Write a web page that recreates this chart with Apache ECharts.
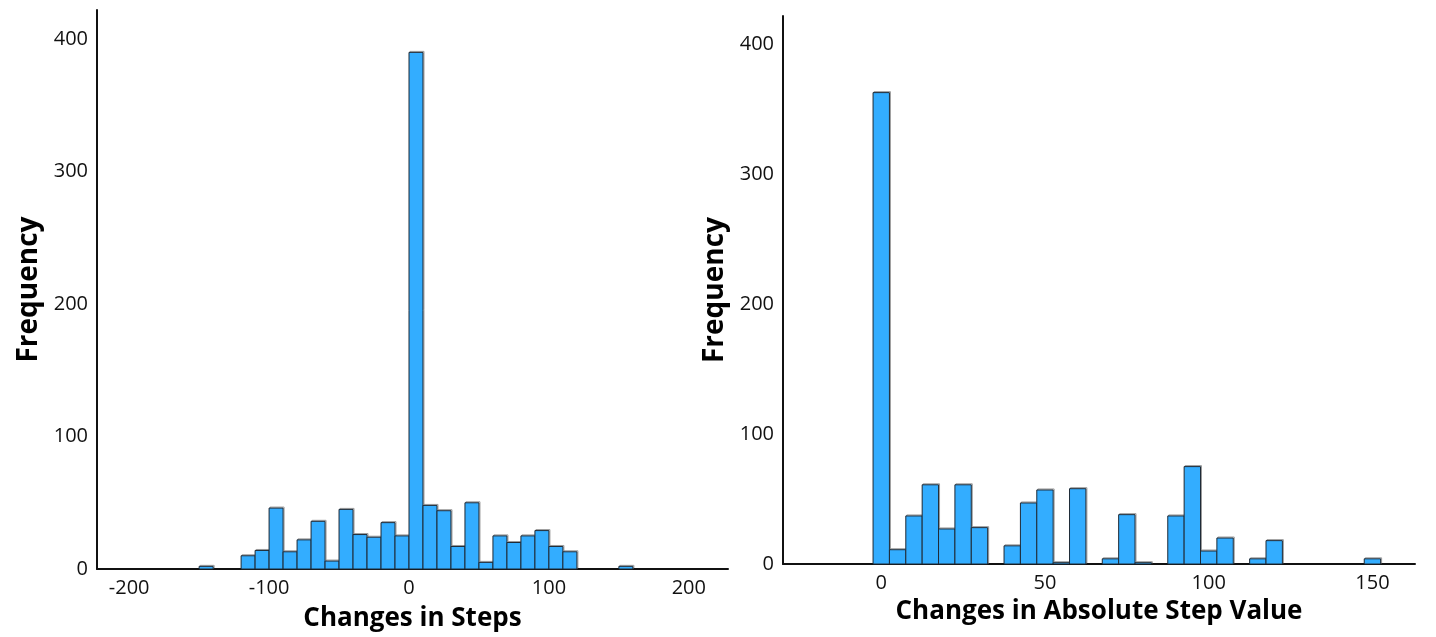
<!DOCTYPE html>
<html>
<head>
<meta charset="utf-8">
<script src="https://cdn.jsdelivr.net/npm/echarts@6/dist/echarts.min.js"></script>
<style>
  html, body { margin: 0; padding: 0; background: #fff; }
  #chart { width: 1436px; height: 637px; }
</style>
</head>
<body>
<div id="chart"></div>
<script>
// ---- Left histogram: Changes in Steps (bin width 10, lower edges) ----
const leftBinWidth = 10;
const leftBinStarts = [-150, -120, -110, -100, -90, -80, -70, -60, -50, -40, -30, -20, -10,
                       0, 10, 20, 30, 40, 50, 60, 70, 80, 90, 100, 110, 150];
const leftFreq      = [2, 10, 14, 46, 13, 22, 36, 6, 45, 26, 24, 35, 25,
                       390, 48, 44, 17, 50, 5, 25, 20, 25, 29, 17, 13, 2];
const leftXTicks = [-200, -100, 0, 100, 200];

// ---- Right histogram: Changes in Absolute Step Value (bin width 5, centres) ----
const rightBinWidth = 5;
const rightBinCenters = [0, 5, 10, 15, 20, 25, 30, 40, 45, 50, 55, 60, 70, 75, 80,
                         90, 95, 100, 105, 115, 120, 150];
const rightFreq       = [363, 11, 37, 61, 27, 61, 28, 14, 47, 57, 1, 58, 4, 38, 1,
                         37, 75, 10, 20, 4, 18, 4];
const rightXTicks = [0, 50, 100, 150];

const yTicks = [0, 100, 200, 300, 400];

const leftData = leftBinStarts.map((s, i) => [s, s + leftBinWidth, leftFreq[i]]);
const rightData = rightBinCenters.map((c, i) => [c - rightBinWidth / 2, c + rightBinWidth / 2, rightFreq[i]]);

const FONT = 'Open Sans';
const BAR_FILL = '#33adff';
const BAR_STROKE = '#1e2a36';

function renderBar(params, api) {
  const x0 = api.value(0), x1 = api.value(1), v = api.value(2);
  const p0 = api.coord([x0, 0]);
  const p1 = api.coord([x1, v]);
  return {
    type: 'group',
    children: [
      {
        type: 'rect',
        shape: { x: p0[0] + 1, y: p1[1] - 1, width: p1[0] - p0[0], height: p0[1] - p1[1] },
        style: { fill: 'none', stroke: '#9a9a9a', lineWidth: 1 }
      },
      {
        type: 'rect',
        shape: { x: p0[0], y: p1[1], width: p1[0] - p0[0], height: p0[1] - p1[1] },
        style: { fill: BAR_FILL, stroke: BAR_STROKE, lineWidth: 1 }
      }
    ]
  };
}

const axisLineStyle = { show: true, onZero: false, lineStyle: { color: '#111', width: 2 } };
const tickLabel = { color: '#111', fontFamily: FONT, fontSize: 20 };
const xNameStyle = { color: '#000', fontFamily: FONT, fontSize: 26, fontWeight: 'bold' };
const yNameStyle = { color: '#000', fontFamily: FONT, fontSize: 28, fontWeight: 'bold' };

function xAxisDef(gridIndex, min, max, ticks, name, gap) {
  return {
    type: 'value', gridIndex, min, max,
    name, nameLocation: 'middle', nameGap: gap, nameTextStyle: xNameStyle,
    axisLine: axisLineStyle,
    axisTick: { show: false },
    splitLine: { show: false },
    axisLabel: Object.assign({ margin: 9, customValues: ticks }, tickLabel)
  };
}
function yAxisDef(gridIndex, gap) {
  return {
    type: 'value', gridIndex, min: 0, max: 422,
    name: 'Frequency', nameLocation: 'middle', nameGap: gap, nameTextStyle: yNameStyle,
    axisLine: axisLineStyle,
    axisTick: { show: false },
    splitLine: { show: false },
    axisLabel: Object.assign({ margin: 9, customValues: yTicks }, tickLabel)
  };
}

const chart = echarts.init(document.getElementById('chart'), null, { renderer: 'canvas' });
chart.setOption({
  backgroundColor: '#fff',
  animation: false,
  grid: [
    { left: 97, top: 10, width: 631, height: 559 },
    { left: 783, top: 16, width: 632, height: 548 }
  ],
  xAxis: [
    xAxisDef(0, -223, 228, leftXTicks, 'Changes in Steps', 37),
    xAxisDef(1, -30, 163, rightXTicks, 'Changes in Absolute Step Value', 35)
  ],
  yAxis: [
    yAxisDef(0, 54),
    yAxisDef(1, 54)
  ],
  series: [
    {
      type: 'custom', xAxisIndex: 0, yAxisIndex: 0,
      renderItem: renderBar,
      encode: { x: [0, 1], y: 2 },
      data: leftData,
      clip: false
    },
    {
      type: 'custom', xAxisIndex: 1, yAxisIndex: 1,
      renderItem: renderBar,
      encode: { x: [0, 1], y: 2 },
      data: rightData,
      clip: false
    }
  ]
});
</script>
</body>
</html>
